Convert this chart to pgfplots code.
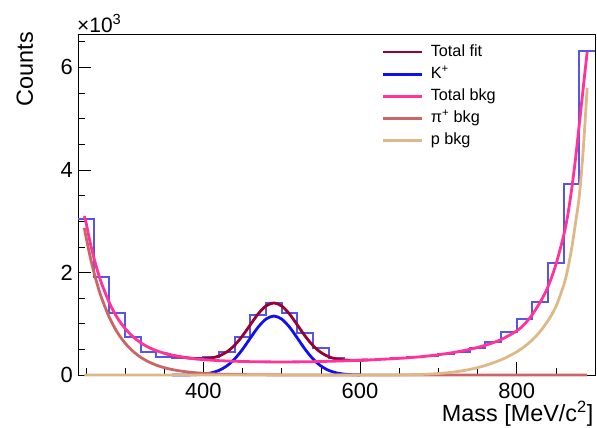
\documentclass[border=0pt]{standalone}
\usepackage{fontspec}
\setmainfont{Liberation Sans}
\usepackage{pgfplots}
\pgfplotsset{compat=1.18}

\definecolor{histblue}{RGB}{85,85,230}
\definecolor{totfit}{RGB}{153,0,51}
\definecolor{kplus}{RGB}{15,15,240}
\definecolor{totbkg}{RGB}{255,51,153}
\definecolor{pibkg}{RGB}{204,102,102}
\definecolor{pbkg}{RGB}{222,184,135}

\begin{document}
\begin{tikzpicture}
\useasboundingbox (-78bp,-53bp) rectangle (519bp,375bp);
\begin{axis}[
    at={(0,0)}, anchor=south west,
    scale only axis, width=517bp, height=341bp,
    xmin=240, xmax=900, ymin=0, ymax=6650,
    clip=false,
    axis line style={line width=0.8bp},
    tick align=inside, xtick pos=left, ytick pos=left,
    xtick={400,600,800}, xticklabels={400,600,800},
    minor xtick={250,300,350,450,500,550,650,700,750,850},
    ytick={0,2000,4000,6000}, yticklabels={0,2,4,6},
    minor ytick={500,1000,1500,2500,3000,3500,4500,5000,5500,6500},
    major tick length=13bp, minor tick length=6.5bp,
    every tick/.style={black, line width=0.6bp},
    ticklabel style={font=\fontsize{22}{22}\selectfont},
    xticklabel style={inner sep=0pt, yshift=-7.7bp},
    yticklabel style={inner sep=0pt, xshift=-5bp},
    legend style={at={(axis description cs:0.588,0.972)}, anchor=north west,
        draw=none, fill=none, inner sep=0pt, outer sep=0pt,
        font=\fontsize{16.3}{16.3}\selectfont, row sep=5.0bp, column sep=6bp,
        nodes={inner sep=1bp, text height=11.7bp, text depth=3.4bp}},
    legend cell align=left,
    legend image code/.code={\draw[#1] (0bp,0bp) -- (39bp,0bp);},
]

% data histogram, 20 MeV bins
\addplot[const plot, histblue, line width=2bp, forget plot] table {
240 3035
260 1915
280 1200
300 747
320 455
340 357
360 330
380 330
400 345
420 455
440 750
460 1170
480 1410
500 1215
520 810
540 520
560 325
580 290
600 300
620 320
640 330
660 350
680 370
700 410
720 455
740 533
760 637
780 830
800 1090
820 1415
840 2190
860 3715
880 6320
900 6320
};

% total fit
\addplot[smooth, totfit, line width=2.8bp] table {
350 425
360 385
370 356
380 334
390 320
400 317
410 331
420 370
430 451
440 581
450 764
460 980
470 1192
480 1347
490 1405
500 1346
510 1189
520 976
530 758
540 573
550 440
560 357
570 312
580 293
590 287
600 289
610 293
};
\addlegendentry{Total fit}

% K+ signal
\addplot[smooth, kplus, line width=2.8bp] table {
360 0
370 1
380 2
390 6
400 17
410 41
420 90
430 177
440 313
450 500
460 720
470 934
480 1091
490 1150
500 1091
510 934
520 720
530 500
540 313
550 177
560 90
570 41
580 17
590 6
600 2
};
\addlegendentry{K\textsuperscript{+}}

% total background
\addplot[smooth, totbkg, line width=2.8bp] table {
248 3100
250 2990
255 2620
260 2300
265 2030
270 1790
280 1410
290 1120
300 910
310 750
320 630
330 540
340 475
350 425
360 385
370 355
380 332
390 314
400 300
420 280
440 268
460 260
480 256
500 255
520 256
540 260
560 267
580 276
600 287
620 300
640 316
660 334
680 360
700 395
720 440
740 500
760 580
780 690
800 860
810 990
820 1180
830 1420
840 1720
850 2150
860 2720
865 3100
870 3600
875 4200
880 4900
885 5600
890 6300
};
\addlegendentry{Total bkg}

% pi+ background
\addplot[smooth, pibkg, line width=2.8bp] table {
248 2870
250 2714
255 2343
260 2022
265 1746
270 1507
280 1123
290 837
300 624
310 465
320 346
330 258
340 192
350 143
360 107
370 80
380 59
390 44
400 33
420 18
440 10
460 6
480 3
500 2
550 0
890 0
};
\addlegendentry{π\textsuperscript{+} bkg}

% proton background
\addplot[smooth, pbkg, line width=2.8bp] table {
248 0
600 0
650 3
680 12
700 28
720 58
740 108
760 185
780 295
790 368
800 450
810 555
820 685
830 850
840 1060
850 1330
860 1750
865 2050
870 2450
875 2950
880 3500
885 4400
890 5600
};
\addlegendentry{p bkg}
\end{axis}

\node[rotate=90, anchor=base east, inner sep=0pt, font=\fontsize{23.5}{23.5}\selectfont] at (-45bp,343.3bp) {Counts};
\node[anchor=base east, inner sep=0pt, font=\fontsize{23.5}{23.5}\selectfont] at (515.5bp,-46.7bp) {Mass [MeV/c\textsuperscript{2}]};
\node[anchor=base west, inner sep=0pt, font=\fontsize{21}{21}\selectfont] at (-1bp,342.7bp) {×10\textsuperscript{3}};
\end{tikzpicture}
\end{document}
